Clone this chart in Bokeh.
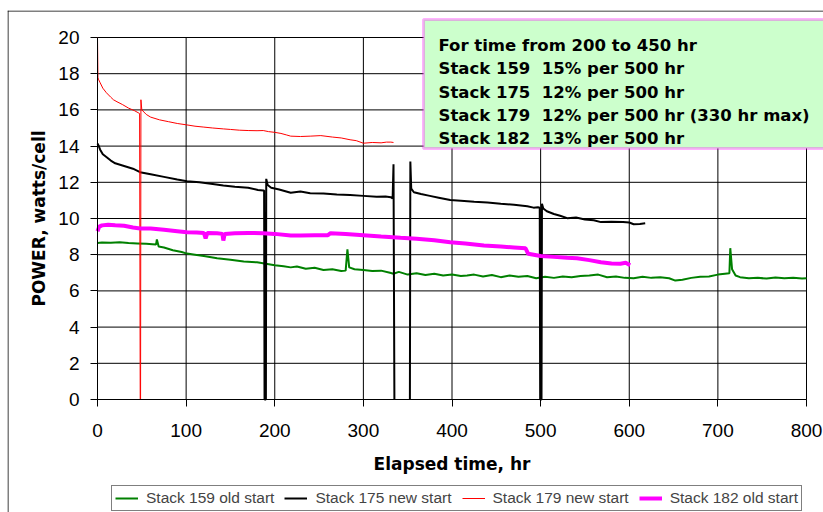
from bokeh.plotting import figure
from bokeh.models import (FixedTicker, Legend, LegendItem, BoxAnnotation, Label, Span)
from bokeh.embed import file_html
from bokeh.resources import INLINE

NaN = float("nan")

# ---------------- data ----------------
x_ticks = [0, 100, 200, 300, 400, 500, 600, 700, 800]
y_ticks = [0, 2, 4, 6, 8, 10, 12, 14, 16, 18, 20]

s159_t = [0, 5, 15, 25, 35, 45, 55, 62, 66, 67, 69, 75, 85, 95, 101, 110, 120, 135, 150, 165,
          180, 190, 200, 210, 218, 225, 235, 245, 255, 265, 275, 280, 282, 284, 290, 300, 310,
          320, 330, 334, 340, 350, 360, 370, 380, 390, 400, 410, 417, 425, 435, 445, 455, 465,
          475, 485, 495, 505, 515, 525, 535, 545, 555, 565, 575, 585, 595, 605, 615, 625, 635,
          645, 652, 660, 670, 680, 690, 700, 708, 713, 714, 716, 720, 725, 735, 745, 755, 765,
          775, 785, 795, 800]
s159_v = [8.65, 8.68, 8.66, 8.69, 8.64, 8.62, 8.6, 8.58, 8.56, 8.84, 8.45, 8.4, 8.25, 8.15, 8.06,
          8.0, 7.93, 7.8, 7.72, 7.62, 7.58, 7.5, 7.42, 7.36, 7.3, 7.35, 7.22, 7.28, 7.15, 7.2, 7.1,
          7.12, 8.29, 7.3, 7.2, 7.15, 7.1, 7.12, 7.0, 6.95, 7.05, 6.9, 6.98, 6.88, 6.95, 6.85, 6.9,
          6.82, 6.85, 6.9, 6.8, 6.88, 6.76, 6.85, 6.78, 6.82, 6.7, 6.78, 6.72, 6.8, 6.75, 6.82,
          6.85, 6.9, 6.75, 6.8, 6.72, 6.7, 6.78, 6.72, 6.75, 6.7, 6.57, 6.62, 6.72, 6.78, 6.8, 6.9,
          6.95, 6.98, 8.36, 7.2, 6.85, 6.76, 6.7, 6.72, 6.68, 6.74, 6.7, 6.72, 6.68, 6.7]

s175_t = [0, 1, 3, 6, 10, 15, 20, 30, 40, 48, 60, 75, 90, 101, 115, 130, 142, 155, 170, 181,
          187, 188, 188.5, 190, 190.4, 192, 196, 205, 218, 229, 240, 255, 270, 285, 300, 315,
          325, 331, 333, 334, 335, 344, 352.5, 353, 354, 357, 365, 375, 385, 398, 410, 425, 440,
          455, 470, 485, 492, 497, 499, 499.5, 501, 501.5, 503, 507, 515, 522, 530, 540, 550,
          560, 568, 580, 593, 600, 605, 612, 618]
s175_v = [14.14, 14.05, 13.8, 13.55, 13.4, 13.2, 13.05, 12.9, 12.75, 12.56, 12.45, 12.3, 12.15,
          12.06, 12.0, 11.9, 11.82, 11.75, 11.7, 11.58, 11.55, 11.55, 0, 0, 12.19, 11.85, 11.7,
          11.6, 11.42, 11.49, 11.4, 11.38, 11.32, 11.3, 11.25, 11.2, 11.22, 11.18, 11.1, 13.0,
          0, NaN, 0, 13.15, 11.65, 11.45, 11.35, 11.25, 11.15, 11.02, 10.98, 10.92, 10.88, 10.81,
          10.76, 10.68, 10.6, 10.62, 10.6, 0, 0, 10.82, 10.55, 10.4, 10.25, 10.15, 10.02, 10.05,
          9.95, 9.9, 9.8, 9.82, 9.8, 9.78, 9.68, 9.7, 9.74]

s179_t = [0, 0.5, 1, 3, 6, 10, 15, 18, 22, 28, 35, 42, 47.5, 48.2, 48.6, 49, 50, 55, 60, 70,
          80, 90, 101, 110, 120, 130, 142, 150, 160, 170, 180, 187, 193, 200, 207, 213, 218,
          229, 240, 252, 265, 275, 285, 292, 300, 310, 320, 326, 331, 334]
s179_v = [20, 17.8, 17.7, 17.5, 17.2, 16.95, 16.7, 16.56, 16.45, 16.3, 16.1, 15.95, 15.8, 0, 0,
          16.56, 16.0, 15.75, 15.6, 15.45, 15.35, 15.25, 15.17, 15.1, 15.05, 15.0, 14.95, 14.92,
          14.88, 14.86, 14.85, 14.86, 14.8, 14.76, 14.7, 14.62, 14.55, 14.53, 14.55, 14.58,
          14.5, 14.45, 14.35, 14.3, 14.16, 14.2, 14.18, 14.22, 14.22, 14.2]

s182_t = [0, 2, 5, 12, 20, 30, 40, 48, 60, 75, 90, 101, 112, 120, 122, 124, 135, 141, 142,
          143.5, 155, 170, 187, 200, 218, 229, 245, 260, 263, 280, 300, 320, 342, 360, 380, 398,
          415, 436, 455, 470, 483, 486, 500, 515, 530, 541, 555, 568, 580, 590, 596, 601]
s182_v = [9.3, 9.55, 9.62, 9.66, 9.63, 9.6, 9.5, 9.45, 9.45, 9.38, 9.3, 9.24, 9.22, 9.2, 8.9,
          9.2, 9.18, 9.15, 8.78, 9.15, 9.18, 9.2, 9.19, 9.15, 9.06, 9.06, 9.08, 9.08, 9.19, 9.15,
          9.08, 9.0, 8.93, 8.88, 8.8, 8.69, 8.62, 8.51, 8.45, 8.4, 8.35, 8.05, 7.93, 7.88, 7.83,
          7.8, 7.7, 7.58, 7.52, 7.5, 7.55, 7.42]

series_names = ["Stack 159 old start", "Stack 175 new start",
                "Stack 179 new start", "Stack 182 old start"]
box_lines = ["For time from 200 to 450 hr",
             "Stack 159\u00a0 15% per 500 hr",
             "Stack 175\u00a0 12% per 500 hr",
             "Stack 179\u00a0 12% per 500 hr (330 hr max)",
             "Stack 182\u00a0 13% per 500 hr"]

# ---------------- geometry ----------------
W, H = 823, 512
FL, FT = 7, 10                 # frame left / top on the canvas (outer chart border)
X0PX, X800PX = 97, 806          # canvas x of 0 hr and 800 hr
Y0PX, Y20PX = 399, 37           # canvas y of 0 and 20 W
PX_X = (X800PX - X0PX) / 800.0
PX_Y = (Y0PX - Y20PX) / 20.0

def dx(px):  # canvas px -> data x
    return (px - X0PX) / PX_X

def dy(py):  # canvas py -> data y
    return (Y0PX - py) / PX_Y

p = figure(frame_width=W - FL, frame_height=H - FT,
           x_range=(dx(FL), dx(W)), y_range=(dy(H), dy(FT)),
           output_backend="svg", toolbar_location=None,
           min_border_left=FL, min_border_right=0, min_border_top=FT, min_border_bottom=0)
p.background_fill_color = "white"
p.border_fill_color = "white"
p.outline_line_color = None
p.grid.visible = False

for ax, ticks in ((p.xaxis, x_ticks), (p.yaxis, y_ticks)):
    ax.ticker = FixedTicker(ticks=ticks)
    ax.fixed_location = 0
    ax.bounds = (ticks[0], ticks[-1])
    ax.axis_line_color = "black"
    ax.major_tick_line_color = "black"
    ax.major_tick_in = 0
    ax.major_tick_out = 7
    ax.minor_tick_line_color = None
    ax.major_label_text_font = "Liberation Sans"
    ax.major_label_text_font_size = "19px"
    ax.major_label_text_color = "black"
    ax.axis_label_text_font = "DejaVu Sans"
    ax.axis_label_text_font_style = "bold"
    ax.axis_label_text_font_size = "17px"
    ax.axis_label_text_color = "black"

p.xaxis.axis_label = "Elapsed time, hr"
p.yaxis.axis_label = "POWER, watts/cell"
p.xaxis.major_label_standoff = 17
p.yaxis.major_label_standoff = 11
p.xaxis.axis_label_standoff = 14
p.yaxis.axis_label_standoff = 6

# grid lines from the tick values, limited to the plotting area
p.segment(x0=[x_ticks[0]] * len(y_ticks), x1=[x_ticks[-1]] * len(y_ticks),
          y0=y_ticks, y1=y_ticks, line_color="black", line_width=1)
p.segment(x0=x_ticks, x1=x_ticks, y0=[y_ticks[0]] * len(x_ticks),
          y1=[y_ticks[-1]] * len(x_ticks), line_color="black", line_width=1)

r159 = p.line(s159_t, s159_v, line_color="#008000", line_width=2)
r175 = p.line(s175_t, s175_v, line_color="black", line_width=2)
r179 = p.line(s179_t, s179_v, line_color="#ff0000", line_width=1)
r182 = p.line(s182_t, s182_v, line_color="#ff00ff", line_width=4)

# outer chart border (left and top edges)
p.add_layout(Span(location=dx(FL + 0.5), dimension="height", line_color="black", line_width=1))
p.add_layout(Span(location=dy(FT + 0.5), dimension="width", line_color="black", line_width=1))

# annotation box
p.add_layout(BoxAnnotation(left=dx(423), right=dx(840), top=dy(19), bottom=dy(148),
                           fill_color="#ccffcc", fill_alpha=1,
                           line_color="#ff00ff", line_width=3))
baselines = [45, 68.3, 91.7, 115, 138.3]
for txt, b in zip(box_lines, baselines):
    p.add_layout(Label(x=dx(438), y=dy(b), text=txt, text_font="DejaVu Sans",
                       text_font_style="bold", text_font_size="16.5px",
                       text_baseline="alphabetic", text_color="black"))

legend = Legend(items=[LegendItem(label=n, renderers=[r]) for n, r in
                       zip(series_names, [r159, r175, r179, r182])],
                orientation="horizontal", location=(111 - FL, 1))
legend.label_text_font = "Liberation Sans"
legend.label_text_font_size = "15.5px"
legend.glyph_width = 23
legend.glyph_height = 16
legend.label_standoff = 8
legend.spacing = 10
legend.padding = 3
legend.margin = 0
legend.label_height = 16
legend.border_line_color = "black"
legend.border_line_width = 1
legend.background_fill_color = "white"
legend.background_fill_alpha = 1
p.add_layout(legend, "center")

open("out.html", "w").write(file_html(p, INLINE))
